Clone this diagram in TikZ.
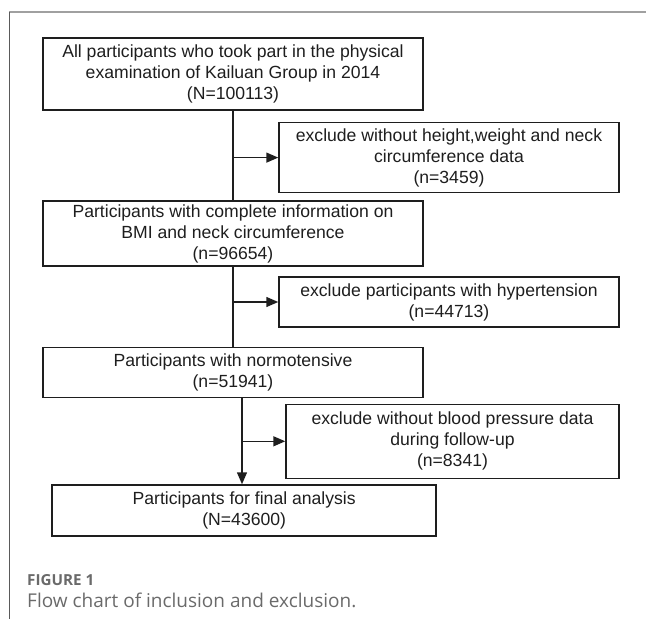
\documentclass[tikz,border=0pt]{standalone}
\usepackage{fontspec}
\setmainfont{Liberation Sans}
\newfontfamily\capfont{Open Sans}
\usetikzlibrary{arrows.meta}
\definecolor{boxline}{HTML}{1E1E1E}
\definecolor{capgray}{HTML}{6A6A6A}
\definecolor{frametop}{HTML}{A0A0A0}
\definecolor{frameleft}{HTML}{5A5A5A}
\begin{document}
\begin{tikzpicture}[x=1pt,y=-1pt,
  fbox/.style={draw=boxline,line width=1.5pt,align=center,inner sep=0pt,
    text=boxline,font=\fontsize{17.6}{21}\selectfont},
  conn/.style={draw=boxline,line width=1.5pt},
  arr/.style={conn,-{Triangle[length=12pt,width=10pt]}},
  capsmall/.style={anchor=base west,inner sep=0pt,text=capgray,font=\capfont\bfseries\fontsize{15.2}{17}\selectfont},
  capbig/.style={anchor=base west,inner sep=0pt,text=capgray,font=\capfont\fontsize{19}{22}\selectfont}]
\useasboundingbox (0,0) rectangle (646,619);
% frame
\draw[frametop,line width=1.5pt] (9,12) -- (646,12);
\draw[frameleft,line width=1pt] (9,12) -- (9,619);
% boxes
\node[fbox,minimum width=380pt,minimum height=72pt] (b1) at (233,74)
  {All participants who took part in the physical\\examination of Kailuan Group in 2014\\(N=100113)};
\node[fbox,minimum width=340pt,minimum height=70pt] (b2) at (449,157.6)
  {exclude without height,weight and neck\\circumference data\\(n=3459)};
\node[fbox,minimum width=380pt,minimum height=65pt] (b3) at (233,233.5)
  {Participants with complete information on\\BMI and neck circumference\\(n=96654)};
\node[fbox,minimum width=340pt,minimum height=50pt] (b4) at (449,302)
  {exclude participants with hypertension\\(n=44713)};
\node[fbox,minimum width=380pt,minimum height=50pt] (b5) at (233,372.3)
  {Participants with normotensive\\(n=51941)};
\node[fbox,minimum width=333pt,minimum height=74pt] (b6) at (452.5,441.3)
  {exclude without blood pressure data\\during follow-up\\(n=8341)};
\node[fbox,minimum width=384pt,minimum height=51pt] (b7) at (244.2,510.5)
  {Participants for final analysis\\(N=43600)};
% connectors
\draw[conn] (b1.south) -- (b3.north);
\draw[arr] (b1.south |- b2.west) -- (b2.west);
\draw[conn] (b3.south) -- (b5.north);
\draw[arr] (b3.south |- b4.west) -- (b4.west);
\coordinate (k) at (242,0);
\coordinate (j) at (b5.south -| k);
\draw[arr] (j) -- (b7.north -| k);
\draw[arr] (j |- b6.west) -- (b6.west);
% caption
\node[capsmall] (c1) at (27,585) {FIGURE 1};
\node[capbig] (c2) at (27,607.5) {Flow chart of inclusion and exclusion.};
\end{tikzpicture}
\end{document}
